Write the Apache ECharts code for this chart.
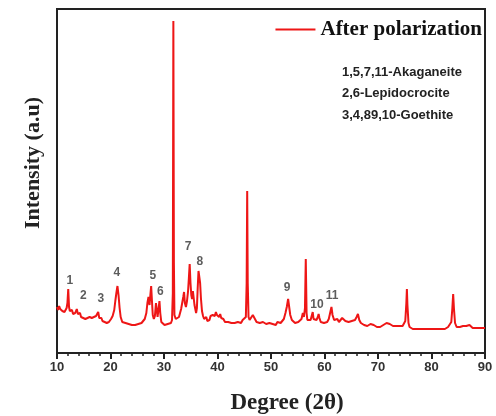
<!DOCTYPE html>
<html>
<head>
<meta charset="utf-8">
<script src="https://cdn.jsdelivr.net/npm/echarts@6/dist/echarts.min.js"></script>
<style>
  html, body { margin: 0; padding: 0; background: #fff; }
  #main { width: 496px; height: 416px; }
</style>
</head>
<body>
<div id="main"></div>
<script>
// XRD pattern (2θ in degrees, intensity in arbitrary units)
var twoTheta = [
  10.0, 10.2, 10.4, 10.6, 10.8, 11.0, 11.2, 11.4, 11.6, 11.8, 11.95, 12.1, 12.25, 12.4, 12.6, 12.8,
  13.0, 13.2, 13.4, 13.7, 13.9, 14.1, 14.3, 14.5, 14.7, 14.9, 15.1, 15.3, 15.5, 15.7, 15.9, 16.1,
  16.3, 16.5, 16.7, 16.9, 17.1, 17.3, 17.5, 17.7, 17.9, 18.1, 18.3, 18.5, 18.7, 18.9, 19.1, 19.3,
  19.5, 19.7, 19.9, 20.1, 20.4, 20.7, 20.9, 21.1, 21.3, 21.5, 21.7, 21.9, 22.2, 22.5, 22.8, 23.1,
  23.4, 23.7, 24.0, 24.3, 24.6, 24.9, 25.2, 25.5, 25.8, 26.1, 26.4, 26.7, 26.9, 27.1, 27.3, 27.45,
  27.6, 27.75, 27.9, 28.1, 28.3, 28.5, 28.65, 28.8, 29.0, 29.15, 29.3, 29.5, 29.8, 30.1, 30.4, 30.7,
  31.0, 31.3, 31.5, 31.65, 31.75, 31.85, 31.95, 32.2, 32.5, 32.8, 33.0, 33.2, 33.4, 33.6, 33.75, 33.9,
  34.1, 34.3, 34.5, 34.65, 34.8, 34.95, 35.1, 35.25, 35.4, 35.55, 35.7, 35.85, 36.0, 36.15, 36.3, 36.45,
  36.6, 36.75, 36.9, 37.1, 37.3, 37.5, 37.7, 37.9, 38.1, 38.3, 38.5, 38.7, 38.9, 39.1, 39.3, 39.5,
  39.7, 39.9, 40.1, 40.3, 40.5, 40.7, 40.9, 41.1, 41.4, 41.7, 42.0, 42.3, 42.6, 42.9, 43.2, 43.5,
  43.8, 44.1, 44.4, 44.7, 45.0, 45.3, 45.45, 45.55, 45.65, 45.8, 46.0, 46.3, 46.6, 46.8, 47.0, 47.3,
  47.6, 47.9, 48.2, 48.5, 48.8, 49.1, 49.4, 49.7, 50.0, 50.3, 50.6, 50.9, 51.2, 51.5, 51.8, 52.1,
  52.4, 52.7, 52.95, 53.2, 53.4, 53.6, 53.9, 54.2, 54.5, 54.8, 55.1, 55.4, 55.7, 55.95, 56.15, 56.35,
  56.5, 56.65, 56.8, 57.1, 57.4, 57.65, 57.8, 57.95, 58.2, 58.5, 58.75, 58.9, 59.05, 59.3, 59.6, 59.9,
  60.2, 60.5, 60.8, 61.05, 61.3, 61.5, 61.8, 62.1, 62.4, 62.7, 63.0, 63.3, 63.6, 63.9, 64.2, 64.5,
  64.8, 65.1, 65.4, 65.7, 66.0, 66.25, 66.5, 66.8, 67.1, 67.4, 67.7, 68.0, 68.3, 68.6, 68.9, 69.2,
  69.5, 69.8, 70.1, 70.4, 70.7, 71.0, 71.3, 71.6, 71.9, 72.2, 72.5, 72.8, 73.1, 73.4, 73.7, 74.0,
  74.3, 74.6, 74.9, 75.1, 75.3, 75.4, 75.5, 75.7, 75.9, 76.2, 76.5, 76.8, 77.1, 77.4, 77.7, 78.0,
  78.3, 78.6, 78.9, 79.2, 79.5, 79.8, 80.1, 80.4, 80.7, 81.0, 81.3, 81.6, 81.9, 82.2, 82.5, 82.8,
  83.1, 83.4, 83.7, 83.9, 84.05, 84.2, 84.4, 84.7, 85.0, 85.3, 85.6, 85.9, 86.2, 86.5, 86.8, 87.1,
  87.4, 87.7, 88.0, 88.3, 88.6, 88.9, 89.2, 89.5, 89.8, 90.0
];
var intensity = [
  46, 43, 47, 44, 45, 42, 44, 41, 43, 45, 50, 64, 46, 42, 40, 43,
  39, 41, 40, 44, 39, 37, 40, 36, 38, 35, 37, 34, 36, 35, 33, 36,
  34, 35, 33, 36, 34, 37, 35, 41, 35, 33, 35, 32, 33, 31, 32, 30,
  32, 31, 33, 34, 37, 43, 52, 60, 67, 58, 45, 36, 31, 29, 30, 28,
  29, 27, 28, 26, 28, 27, 29, 28, 30, 32, 34, 40, 50, 56, 48, 58,
  67, 52, 38, 34, 37, 50, 52, 36, 38, 52, 40, 31, 29, 28, 30, 29,
  31, 30, 33, 60, 332, 90, 38, 34, 33, 36, 40, 44, 50, 56, 61, 50,
  46, 52, 62, 75, 89, 70, 58, 54, 62, 60, 48, 44, 40, 45, 65, 82,
  80, 70, 55, 42, 37, 34, 33, 36, 32, 34, 33, 37, 35, 38, 40, 37,
  41, 38, 40, 36, 39, 35, 33, 34, 31, 30, 31, 29, 30, 28, 30, 29,
  31, 29, 30, 33, 31, 36, 70, 162, 70, 36, 33, 35, 38, 40, 34, 31,
  32, 30, 29, 31, 30, 29, 31, 30, 28, 29, 30, 28, 31, 33, 30, 31,
  34, 40, 46, 54, 46, 38, 33, 32, 30, 32, 31, 33, 34, 40, 36, 45,
  94, 40, 33, 31, 33, 35, 41, 34, 32, 33, 36, 39, 35, 31, 29, 30,
  29, 31, 34, 40, 46, 38, 33, 32, 34, 31, 33, 35, 34, 32, 33, 31,
  30, 32, 31, 33, 36, 39, 33, 30, 29, 28, 29, 27, 28, 29, 27, 28,
  27, 26, 27, 26, 27, 28, 29, 30, 31, 29, 28, 27, 26, 27, 26, 27,
  26, 27, 28, 32, 50, 64, 48, 30, 26, 25, 24, 25, 24, 25, 24, 25,
  24, 25, 24, 25, 24, 25, 24, 25, 24, 25, 24, 25, 24, 25, 24, 25,
  26, 27, 31, 45, 59, 44, 30, 26, 25, 26, 25, 27, 28, 27, 26, 28,
  27, 25, 24, 25, 24, 25, 24, 25, 24, 25
];

// peak numbers and where they are written
var peakNames = ['1', '2', '3', '4', '5', '6', '7', '8', '9', '10', '11'];
var peakX = [12.4, 14.9, 18.2, 21.2, 27.9, 29.3, 34.5, 36.7, 53.0, 58.6, 61.4];
var peakY = [72, 57, 54, 80, 77, 61, 106, 91, 65, 48, 57];

var phaseNotes = ['1,5,7,11-Akaganeite', '2,6-Lepidocrocite', '3,4,89,10-Goethite'];

var xTicks = [10, 20, 30, 40, 50, 60, 70, 80, 90];

var myChart = echarts.init(document.getElementById('main'));

myChart.setOption({
  animation: false,
  grid: {
    left: 57, right: 11, top: 9, bottom: 63,
    show: true, borderColor: '#222', borderWidth: 2
  },
  legend: {
    data: ['After polarization'],
    right: 9, top: 14,
    icon: 'rect', itemWidth: 40, itemHeight: 2, itemGap: 4,
    textStyle: { fontFamily: 'Liberation Serif', fontWeight: 'bold', fontSize: 21, color: '#111' }
  },
  xAxis: {
    type: 'value',
    min: xTicks[0], max: xTicks[xTicks.length - 1], interval: 10,
    axisLine: { lineStyle: { color: '#222', width: 2 } },
    axisTick: { show: true, length: 6, lineStyle: { color: '#222', width: 2 } },
    minorTick: { show: true, splitNumber: 5, length: 3, lineStyle: { color: '#222', width: 1.5 } },
    axisLabel: { fontFamily: 'Arial', fontWeight: 'bold', fontSize: 13, color: '#333', margin: 8 },
    splitLine: { show: false }
  },
  yAxis: {
    type: 'value', min: 0, max: 344,
    axisLine: { show: true, lineStyle: { color: '#222', width: 2 } },
    axisTick: { show: false },
    axisLabel: { show: false },
    splitLine: { show: false }
  },
  graphic: [
    {
      type: 'text', x: 33, y: 163, rotation: Math.PI / 2,
      style: {
        text: 'Intensity (a.u)', align: 'center', verticalAlign: 'middle',
        font: 'bold 22px "Liberation Serif"', fill: '#222'
      }
    },
    {
      type: 'text', x: 287, y: 403,
      style: {
        text: 'Degree (2θ)', align: 'center', verticalAlign: 'middle',
        font: 'bold 23px "Liberation Serif"', fill: '#222'
      }
    },
    {
      type: 'text', left: 342, top: 66,
      style: { text: phaseNotes[0], font: 'bold 13px Arial', fill: '#222' }
    },
    {
      type: 'text', left: 342, top: 87,
      style: { text: phaseNotes[1], font: 'bold 13px Arial', fill: '#222' }
    },
    {
      type: 'text', left: 342, top: 109,
      style: { text: phaseNotes[2], font: 'bold 13px Arial', fill: '#222' }
    }
  ],
  series: [
    {
      name: 'After polarization',
      type: 'line',
      showSymbol: false,
      color: '#ee1616',
      lineStyle: { width: 2, color: '#ee1616' },
      data: twoTheta.map(function (d, i) { return [d, intensity[i]]; })
    },
    {
      type: 'scatter',
      symbolSize: 0,
      silent: true,
      label: {
        show: true, position: 'inside',
        formatter: function (p) { return peakNames[p.dataIndex]; },
        fontFamily: 'Arial', fontWeight: 'bold', fontSize: 12, color: '#333'
      },
      data: peakX.map(function (d, i) { return [d, peakY[i]]; })
    }
  ]
});
</script>
</body>
</html>
